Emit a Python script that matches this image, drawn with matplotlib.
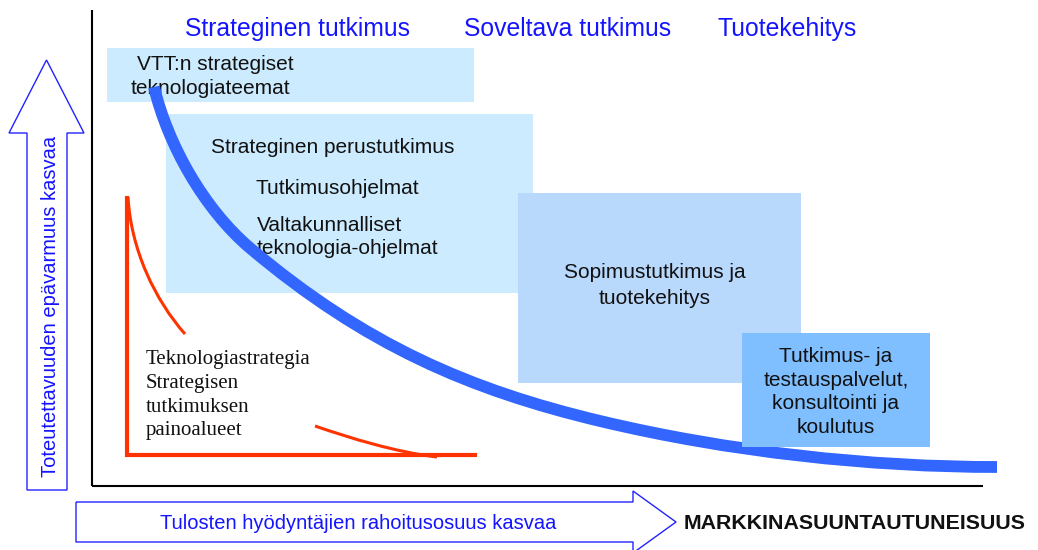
import matplotlib
matplotlib.use("Agg")
import matplotlib.pyplot as plt
from matplotlib.patches import Rectangle, Polygon, PathPatch
from matplotlib.path import Path

# ---- data (pixel coordinates of the diagram, y grows downward) ----
headers = ["Strateginen tutkimus", "Soveltava tutkimus", "Tuotekehitys"]
header_x = [185, 464, 718]

# boxes: left, top, right, bottom
box_edges = [(107, 48, 474, 102), (166, 114, 533, 293),
             (518, 193, 801, 383), (742, 333, 930, 447)]
box_colors = ["#CCEBFF", "#CCEBFF", "#B8D8FC", "#80BFFF"]

box1_lines = ["VTT:n strategiset", "teknologiateemat"]
box2_lines = ["Strateginen perustutkimus", "Tutkimusohjelmat",
              "Valtakunnalliset", "teknologia-ohjelmat"]
box3_lines = ["Sopimustutkimus ja", "tuotekehitys"]
box4_lines = ["Tutkimus- ja", "testauspalvelut,", "konsultointi ja", "koulutus"]
serif_lines = ["Teknologiastrategia", "Strategisen", "tutkimuksen", "painoalueet"]

# blue curve: three cubic Bezier segments (anchor, control, control, anchor, ...)
blue_pts = [(154, 87), (168, 145), (204, 209), (250, 248),
            (365, 345), (470, 390), (600, 421),
            (730, 452), (870, 467), (997, 467)]
# red curves: one cubic segment each
red1_pts = [(128, 197), (131, 250), (155, 300), (185, 334)]
red2_pts = [(315, 426), (350, 438), (395, 452), (437, 457)]
red_l_x = [127, 127, 477]
red_l_y = [196, 455, 455]

blue_txt = "#1414FF"
sans = "Liberation Sans"


def bezier_patch(pts, color, lw, z):
    codes = [Path.MOVETO] + [Path.CURVE4] * (len(pts) - 1)
    return PathPatch(Path(pts, codes), facecolor="none", edgecolor=color,
                     lw=lw, capstyle="butt", zorder=z)


fig = plt.figure(figsize=(10.38, 5.5), dpi=100)
ax = fig.add_axes([0, 0, 1, 1])
ax.set_xlim(0, 1038)
ax.set_ylim(550, 0)
ax.axis("off")

# axes lines
ax.plot([92, 92], [10, 486], color="black", lw=1.5, solid_capstyle="butt")
ax.plot([92, 983], [486, 486], color="black", lw=1.5, solid_capstyle="butt")

# header labels
for x, h in zip(header_x, headers):
    ax.text(x, 36, h, color=blue_txt, fontsize=17.8, family=sans,
            ha="left", va="baseline")

# boxes 1-3
for (l, t, r, b), c in list(zip(box_edges, box_colors))[:3]:
    ax.add_patch(Rectangle((l, t), r - l, b - t, facecolor=c,
                           edgecolor="none", zorder=1))

kw = dict(fontsize=15, family=sans, color="#111111", va="baseline", zorder=2)
ax.text(137, 70, box1_lines[0], ha="left", **kw)
ax.text(131, 94, box1_lines[1], ha="left", **kw)
ax.text(211, 153, box2_lines[0], ha="left", **kw)
ax.text(255, 194, box2_lines[1], ha="left", **kw)
ax.text(257, 231, box2_lines[2], ha="left", **kw)
ax.text(257, 254, box2_lines[3], ha="left", **kw)
for i, s in enumerate(box3_lines):
    ax.text(655, 278 + 26 * i, s, ha="center", **kw)

# blue curve
ax.add_patch(bezier_patch(blue_pts, "#3366FF", 8.5, 3))

# box 4 on top
l, t, r, b = box_edges[3]
ax.add_patch(Rectangle((l, t), r - l, b - t, facecolor=box_colors[3],
                       edgecolor="none", zorder=4))
kw4 = dict(kw, zorder=5)
for i, s in enumerate(box4_lines):
    ax.text(836, 362 + 23.7 * i, s, ha="center", **kw4)

# red shapes
ax.plot(red_l_x, red_l_y, color="#FF3300", lw=3, solid_capstyle="butt",
        solid_joinstyle="miter")
ax.add_patch(bezier_patch(red1_pts, "#FF3300", 2.2, 2))
ax.add_patch(bezier_patch(red2_pts, "#FF3300", 2.2, 2))

for i, s in enumerate(serif_lines):
    ax.text(146, 364 + 23.8 * i, s, fontsize=15, family="Liberation Serif",
            color="#111111", ha="left", va="baseline")

# up arrow
up = Polygon([(27, 490), (27, 133), (9, 133), (46.5, 60), (84, 133),
              (67, 133), (67, 490)], closed=True, fill=False,
             edgecolor="#2222FF", lw=1)
ax.add_patch(up)
ax.text(51, 306, "Toteutettavuuden epävarmuus kasvaa", rotation=90,
        color=blue_txt, fontsize=14.5, family=sans, ha="center", va="center")

# right arrow
right = Polygon([(76, 502), (633, 502), (633, 491), (676, 522), (633, 553),
                 (633, 542), (76, 542)], closed=True, fill=False,
                edgecolor="#2222FF", lw=1, clip_on=False)
ax.add_patch(right)
ax.text(160, 529, "Tulosten hyödyntäjien rahoitusosuus kasvaa",
        color=blue_txt, fontsize=14.5, family=sans, ha="left", va="baseline")
ax.text(684, 529, "MARKKINASUUNTAUTUNEISUUS", color="#111111",
        fontsize=15.4, fontweight="bold", family=sans, ha="left",
        va="baseline")

fig.savefig("out.png", dpi=100)
